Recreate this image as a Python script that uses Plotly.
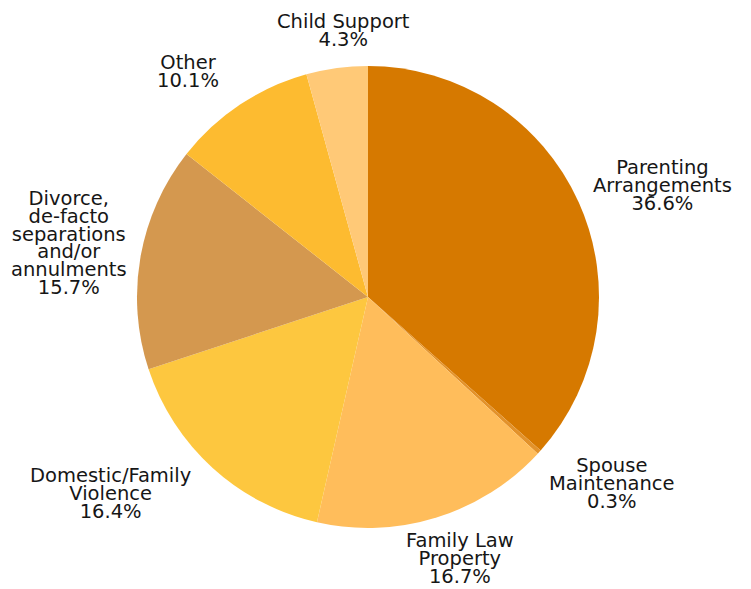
import math
import plotly.graph_objects as go

# Share of matters by category (%)
categories = [
    "Parenting<br>Arrangements",
    "Spouse<br>Maintenance",
    "Family Law<br>Property",
    "Domestic/Family<br>Violence",
    "Divorce,<br>de-facto<br>separations<br>and/or<br>annulments",
    "Other",
    "Child Support",
]
shares = [36.6, 0.3, 16.7, 16.4, 15.7, 10.1, 4.3]
colors = ["#D67900", "#E3922A", "#FFBD5B", "#FDC73F", "#D4984F", "#FDBB30", "#FFC977"]

W, H = 751, 589
DOMAIN_X = [0.1824, 0.7976]
DOMAIN_Y = [0.1036, 0.888]

# Pixel nudges of each label block from the rim point at its slice's mid-angle
label_shift = [(84, -17), (73, 31), (23, 41), (-102, 26), (-71, -14), (-52, -33), (7, -38)]

LABEL_PX = 19.5   # glyph size of label text
PITCH_BASE = 13.7  # base size: line pitch is 1.3x this

fig = go.Figure(
    go.Pie(
        labels=[c.replace("<br>", " ") for c in categories],
        values=shares,
        sort=False,
        direction="clockwise",
        rotation=0,
        marker=dict(colors=colors, line=dict(width=0)),
        textinfo="none",
        hoverinfo="label+percent",
        showlegend=False,
        domain=dict(x=DOMAIN_X, y=DOMAIN_Y),
        automargin=False,
    )
)

# Pie geometry in pixels (zero margins)
cx = (DOMAIN_X[0] + DOMAIN_X[1]) / 2 * W
cy = (1 - (DOMAIN_Y[0] + DOMAIN_Y[1]) / 2) * H
radius = min((DOMAIN_X[1] - DOMAIN_X[0]) * W, (DOMAIN_Y[1] - DOMAIN_Y[0]) * H) / 2

total = sum(shares)
cum = 0.0
for lab, v, (sx, sy) in zip(categories, shares, label_shift):
    mid = (cum + v / 2) / total * 2 * math.pi
    cum += v
    px = cx + radius * math.sin(mid)
    py = cy - radius * math.cos(mid)
    lines = lab.split("<br>") + [f"{v:.1f}%"]
    text = "<br>".join(f'<span style="font-size:{LABEL_PX}px">{ln}</span>' for ln in lines)
    fig.add_annotation(
        x=px / W,
        y=1 - py / H,
        xref="paper",
        yref="paper",
        xanchor="center",
        yanchor="middle",
        xshift=sx,
        yshift=-sy,
        text=text,
        showarrow=False,
        align="center",
        font=dict(family="DejaVu Sans", size=PITCH_BASE, color="#161616"),
    )

fig.update_layout(
    width=W,
    height=H,
    margin=dict(l=0, r=0, t=0, b=0),
    paper_bgcolor="white",
    plot_bgcolor="white",
)

fig.write_html("out.html")
